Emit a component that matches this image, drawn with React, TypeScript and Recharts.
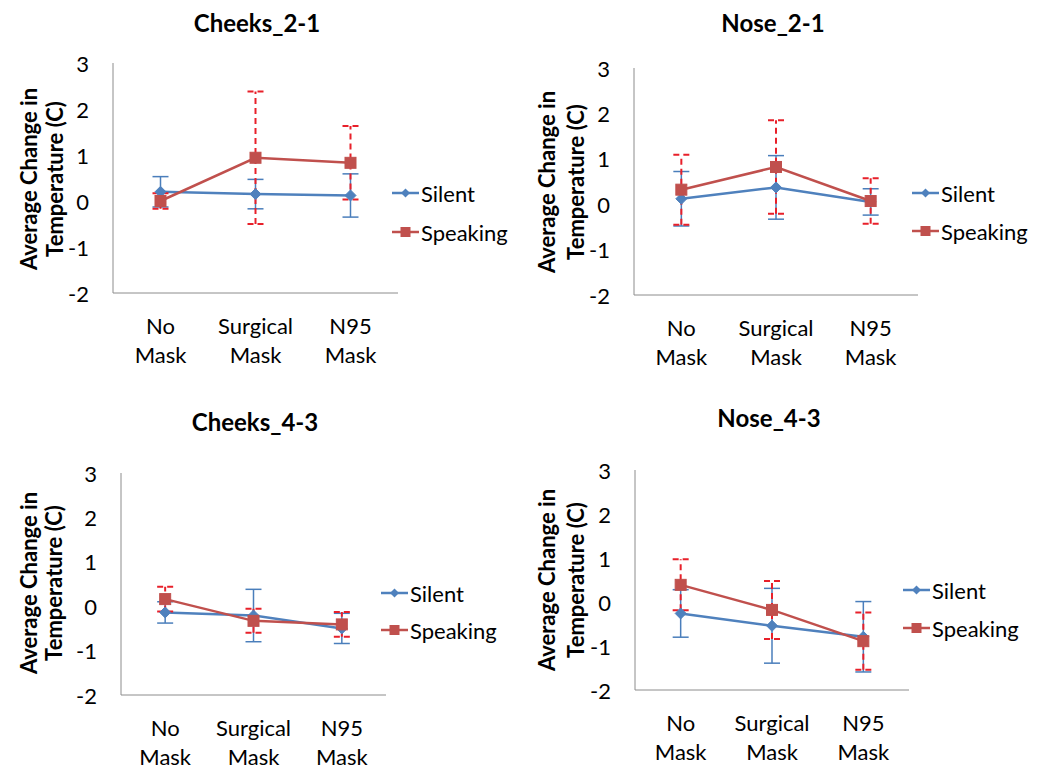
import React from "react";
import { LineChart, Line, XAxis, YAxis, ErrorBar } from "recharts";

const categories = ["No Mask", "Surgical Mask", "N95 Mask"];
const yTicks = [-2, -1, 0, 1, 2, 3];
const seriesNames = ["Silent", "Speaking"];
const panelTitles = ["Cheeks_2-1", "Nose_2-1", "Cheeks_4-3", "Nose_4-3"];
const yLabelLines = ["Average Change in", "Temperature (C)"];

const cheeks21Silent = [0.2, 0.15, 0.12];
const cheeks21SilentErr = [0.33, 0.32, 0.47];
const cheeks21Speaking = [0.0, 0.94, 0.83];
const cheeks21SpeakingErr = [0.17, 1.44, 0.8];

const nose21Silent = [0.12, 0.37, 0.05];
const nose21SilentErr = [0.6, 0.7, 0.29];
const nose21Speaking = [0.32, 0.82, 0.07];
const nose21SpeakingErr = [0.77, 1.03, 0.5];

const cheeks43Silent = [-0.14, -0.21, -0.5];
const cheeks43SilentErr = [0.24, 0.59, 0.34];
const cheeks43Speaking = [0.16, -0.33, -0.41];
const cheeks43SpeakingErr = [0.28, 0.27, 0.28];

const nose43Silent = [-0.26, -0.54, -0.79];
const nose43SilentErr = [0.54, 0.85, 0.8];
const nose43Speaking = [0.39, -0.18, -0.89];
const nose43SpeakingErr = [0.58, 0.66, 0.65];

const FONT = "Lato, 'Open Sans', sans-serif";
const BLUE = "#4F81BD";
const RED = "#C0504D";
const BLUE_ERR = "#4A7EBB";
const RED_ERR = "#E8202A";
const AXIS = "#8C8C8C";

function buildData(s: number[], se: number[], p: number[], pe: number[]) {
  return categories.map((c, i) => ({
    name: c,
    silent: s[i],
    silentErr: se[i],
    speaking: p[i],
    speakingErr: pe[i],
  }));
}

const Diamond = (props: any) => {
  const { cx, cy, index } = props;
  if (cx == null || cy == null) return <g key={`d-${index}`} />;
  const r = 5.5;
  return (
    <polygon
      key={`d-${index}`}
      points={`${cx},${cy - r} ${cx + r},${cy} ${cx},${cy + r} ${cx - r},${cy}`}
      fill={BLUE}
      stroke={BLUE}
      strokeWidth={1}
    />
  );
};

const Square = (props: any) => {
  const { cx, cy, index } = props;
  if (cx == null || cy == null) return <g key={`s-${index}`} />;
  const h = 5.5;
  return (
    <rect
      key={`s-${index}`}
      x={cx - h}
      y={cy - h}
      width={2 * h}
      height={2 * h}
      fill={RED}
      stroke={RED}
      strokeWidth={1}
    />
  );
};

const XTick = (props: any) => {
  const { x, y, payload } = props;
  const v: string = payload.value;
  const idx = v.lastIndexOf(" ");
  const l1 = v.slice(0, idx);
  const l2 = v.slice(idx + 1);
  return (
    <g>
      <text x={x} y={y + 32} textAnchor="middle" dominantBaseline="central" fontFamily={FONT} fontSize={22} fill="#000">
        {l1}
      </text>
      <text x={x} y={y + 61} textAnchor="middle" dominantBaseline="central" fontFamily={FONT} fontSize={22} fill="#000">
        {l2}
      </text>
    </g>
  );
};

const YTick = (props: any) => {
  const { x, y, payload } = props;
  return (
    <text x={x} y={y} textAnchor="end" dominantBaseline="central" fontFamily={FONT} fontSize={22} fill="#000">
      {payload.value}
    </text>
  );
};

type PanelProps = {
  left: number;
  top: number;
  width: number;
  height: number;
  plotL: number;
  plotR: number;
  plotT: number;
  plotB: number;
  data: any[];
};

function Panel({ left, top, width, height, plotL, plotR, plotT, plotB, data }: PanelProps) {
  const pw = plotR - plotL;
  const yW = plotL - left;
  const mRight = left + width - plotR;
  const mTop = plotT - top;
  const xH = top + height - plotB;
  return (
    <div style={{ position: "absolute", left, top, width, height }}>
      <LineChart width={width} height={height} data={data} margin={{ top: mTop, right: mRight, left: 0, bottom: 0 }}>
        <XAxis
          dataKey="name"
          type="category"
          height={xH}
          padding={{ left: pw / 6, right: pw / 6 }}
          axisLine={{ stroke: AXIS, strokeWidth: 1 }}
          tickLine={false}
          tickSize={0}
          tickMargin={0}
          tick={<XTick />}
          interval={0}
        />
        <YAxis
          type="number"
          domain={[-2, 3]}
          ticks={yTicks}
          width={yW}
          axisLine={{ stroke: AXIS, strokeWidth: 1 }}
          tickLine={false}
          tickSize={0}
          tickMargin={24}
          tick={<YTick />}
          interval={0}
        />
        <Line
          dataKey="silent"
          name={seriesNames[0]}
          stroke={BLUE}
          strokeWidth={2.5}
          dot={Diamond}
          activeDot={false}
          isAnimationActive={false}
        >
          <ErrorBar dataKey="silentErr" width={8} stroke={BLUE_ERR} strokeWidth={1.5} direction="y" isAnimationActive={false} />
        </Line>
        <Line
          dataKey="speaking"
          name={seriesNames[1]}
          stroke={RED}
          strokeWidth={2.5}
          dot={Square}
          activeDot={false}
          isAnimationActive={false}
        >
          <ErrorBar
            dataKey="speakingErr"
            width={8}
            stroke={RED_ERR}
            strokeWidth={2}
            strokeDasharray="6 4"
            direction="y"
            isAnimationActive={false}
          />
        </Line>
      </LineChart>
    </div>
  );
}

function LegendBlock({ x, y1, y2 }: { x: number; y1: number; y2: number }) {
  const lx2 = x + 27;
  const mx = x + 13.5;
  return (
    <g>
      <line x1={x} y1={y1} x2={lx2} y2={y1} stroke={BLUE} strokeWidth={2.5} />
      <polygon points={`${mx},${y1 - 4.5} ${mx + 4.5},${y1} ${mx},${y1 + 4.5} ${mx - 4.5},${y1}`} fill={BLUE} />
      <text x={lx2 + 2} y={y1} dominantBaseline="central" fontFamily={FONT} fontSize={22} fill="#000">
        {seriesNames[0]}
      </text>
      <line x1={x} y1={y2} x2={lx2} y2={y2} stroke={RED} strokeWidth={2.5} />
      <rect x={mx - 5} y={y2 - 5} width={10} height={10} fill={RED} />
      <text x={lx2 + 2} y={y2} dominantBaseline="central" fontFamily={FONT} fontSize={22} fill="#000">
        {seriesNames[1]}
      </text>
    </g>
  );
}

function YLabel({ x1, x2, cy }: { x1: number; x2: number; cy: number }) {
  return (
    <g>
      <text
        x={x1}
        y={cy}
        transform={`rotate(-90, ${x1}, ${cy})`}
        textAnchor="middle"
        dominantBaseline="central"
        fontFamily={FONT}
        fontWeight="bold"
        fontSize={22}
        fill="#000"
      >
        {yLabelLines[0]}
      </text>
      <text
        x={x2}
        y={cy}
        transform={`rotate(-90, ${x2}, ${cy})`}
        textAnchor="middle"
        dominantBaseline="central"
        fontFamily={FONT}
        fontWeight="bold"
        fontSize={22}
        fill="#000"
      >
        {yLabelLines[1]}
      </text>
    </g>
  );
}

function Title({ x, y, text }: { x: number; y: number; text: string }) {
  return (
    <text x={x} y={y} textAnchor="middle" dominantBaseline="central" fontFamily={FONT} fontWeight="bold" fontSize={24} fill="#000">
      {text}
    </text>
  );
}

export default function App() {
  const d1 = buildData(cheeks21Silent, cheeks21SilentErr, cheeks21Speaking, cheeks21SpeakingErr);
  const d2 = buildData(nose21Silent, nose21SilentErr, nose21Speaking, nose21SpeakingErr);
  const d3 = buildData(cheeks43Silent, cheeks43SilentErr, cheeks43Speaking, cheeks43SpeakingErr);
  const d4 = buildData(nose43Silent, nose43SilentErr, nose43Speaking, nose43SpeakingErr);
  return (
    <div style={{ position: "absolute", left: 0, top: 0, width: 1041, height: 770, background: "#fff", overflow: "hidden" }}>
      <Panel left={0} top={0} width={520} height={385} plotL={113} plotR={398} plotT={63} plotB={293} data={d1} />
      <Panel left={520} top={0} width={521} height={385} plotL={634} plotR={918} plotT={68} plotB={295} data={d2} />
      <Panel left={0} top={385} width={520} height={385} plotL={121} plotR={386} plotT={473} plotB={695} data={d3} />
      <Panel left={520} top={385} width={521} height={385} plotL={635} plotR={909} plotT={470} plotB={690} data={d4} />
      <svg width={1041} height={770} style={{ position: "absolute", left: 0, top: 0, pointerEvents: "none" }}>
        <Title x={257} y={22} text={panelTitles[0]} />
        <Title x={773} y={22} text={panelTitles[1]} />
        <Title x={255} y={421} text={panelTitles[2]} />
        <Title x={769} y={417} text={panelTitles[3]} />
        <YLabel x1={28} x2={54} cy={179} />
        <YLabel x1={546} x2={575} cy={182} />
        <YLabel x1={28} x2={53} cy={583} />
        <YLabel x1={546} x2={575} cy={580} />
        <LegendBlock x={392} y1={193} y2={232} />
        <LegendBlock x={912} y1={193} y2={231} />
        <LegendBlock x={381} y1={593} y2={630} />
        <LegendBlock x={903} y1={590} y2={628} />
      </svg>
    </div>
  );
}
